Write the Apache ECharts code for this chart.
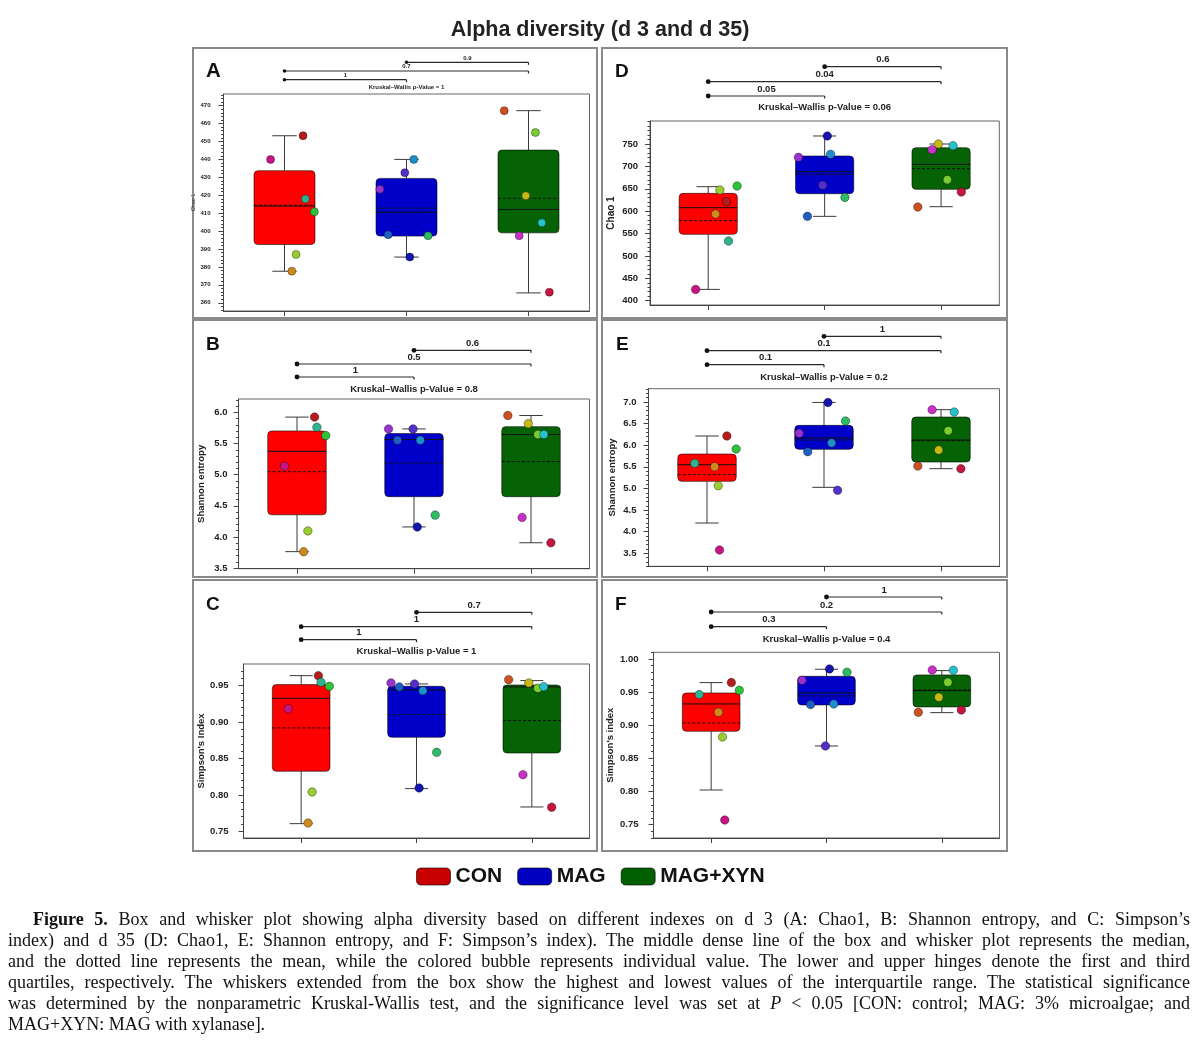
<!DOCTYPE html>
<html>
<head>
<meta charset="utf-8">
<title>Alpha diversity</title>
<script src="https://cdn.jsdelivr.net/npm/echarts@6/dist/echarts.min.js"></script>
<style>
	body { margin: 0; background: #fff; }
	#chart { width: 1200px; height: 1043px; }
	#caption {
		position: absolute; left: 8px; top: 909px; width: 1182px;
		font-family: 'Liberation Serif', 'Times New Roman', serif;
		font-size: 18px; line-height: 21.1px; color: #111;
	}
	#caption .ln { text-align: justify; text-align-last: justify; }
	#caption .first { padding-left: 25px; }
	#caption .last { text-align-last: left; }
</style>
</head>
<body>
<div id="chart"></div>
<div id="caption">
	<div class="ln first"><b>Figure 5.</b> Box and whisker plot showing alpha diversity based on different indexes on d 3 (A: Chao1, B: Shannon entropy, and C: Simpson’s</div>
	<div class="ln">index) and d 35 (D: Chao1, E: Shannon entropy, and F: Simpson’s index). The middle dense line of the box and whisker plot represents the median,</div>
	<div class="ln">and the dotted line represents the mean, while the colored bubble represents individual value. The lower and upper hinges denote the first and third</div>
	<div class="ln">quartiles, respectively. The whiskers extended from the box show the highest and lowest values of the interquartile range. The statistical significance</div>
	<div class="ln">was determined by the nonparametric Kruskal-Wallis test, and the significance level was set at <i>P</i> &lt; 0.05 [CON: control; MAG: 3% microalgae; and</div>
	<div class="ln last">MAG+XYN: MAG with xylanase].</div>
</div>
<script>
const groups = ['CON', 'MAG', 'MAG+XYN'];

// box stats per group: [lower whisker, Q1, median, Q3, upper whisker, mean]
const statsA = [[377.6, 392.5, 414, 433.7, 453.2, 414.4], [385.5, 397.2, 410.5, 429.4, 440, 412.8], [365.5, 399, 412, 445.2, 467.2, 418.3]];
const statsB = [[3.764, 4.356, 5.376, 5.704, 5.926, 5.049], [4.161, 4.647, 5.567, 5.662, 5.736, 5.186], [3.907, 4.647, 5.646, 5.773, 5.952, 5.212]];
const statsC = [[0.7605, 0.8324, 0.9326, 0.9514, 0.9637, 0.8919], [0.8086, 0.8791, 0.944, 0.9491, 0.9523, 0.9102], [0.7834, 0.8575, 0.9482, 0.9509, 0.9569, 0.902]];
const statsD = [[425.3, 548.2, 607.8, 639.8, 654.7, 578.7], [588.4, 639, 688.2, 723.2, 767.9, 682.2], [610, 648.7, 704.6, 741.8, 750, 694.9]];
const statsE = [[4.201, 5.165, 5.55, 5.797, 6.214, 5.319], [5.026, 5.905, 6.167, 6.46, 6.99, 6.121], [5.458, 5.612, 6.121, 6.653, 6.823, 6.106]];
const statsF = [[0.8023, 0.8908, 0.9321, 0.9487, 0.9643, 0.9034], [0.8687, 0.9306, 0.9487, 0.9738, 0.9844, 0.9442], [0.919, 0.9276, 0.9522, 0.9759, 0.9824, 0.9532]];

// individual values, same animal order in every panel
const dotsA = [[440, 453.2, 417.9, 410.8, 387, 377.6], [440, 432.6, 423.3, 398, 397.4, 385.5], [467.2, 455, 419.7, 404.6, 397.4, 365.9]];
const dotsB = [[5.138, 5.926, 5.762, 5.63, 4.097, 3.764], [5.556, 5.736, 5.736, 5.556, 4.351, 4.161], [5.952, 5.646, 5.82, 5.646, 4.314, 3.907]];
const dotsC = [[0.9184, 0.9637, 0.9546, 0.9491, 0.804, 0.7614], [0.9431, 0.9523, 0.9537, 0.9482, 0.8585, 0.8095], [0.9582, 0.9463, 0.9537, 0.9486, 0.8278, 0.783]];
const dotsD = [[425.3, 621.2, 533.3, 656.2, 647.2, 593.6], [726.9, 657.7, 720.2, 588.4, 630.8, 767.9], [609.2, 670.3, 750, 746.3, 737.3, 642.8]];
const dotsE = [[3.577, 6.214, 5.581, 5.913, 5.065, 5.504], [6.052, 4.957, 6.275, 5.851, 6.56, 6.99], [5.52, 6.337, 5.89, 6.769, 6.823, 5.458]];
const dotsF = [[0.757, 0.9643, 0.9462, 0.9527, 0.8823, 0.9195], [0.9321, 0.8687, 0.9678, 0.9311, 0.9799, 0.9849], [0.9195, 0.9648, 0.9422, 0.9829, 0.9834, 0.923]];

// horizontal jitter of each bubble (in category units)
const jitterA = [[-0.114, 0.152, 0.171, 0.245, 0.095, 0.06], [0.06, -0.014, -0.218, -0.15, 0.177, 0.027], [-0.199, 0.057, -0.022, 0.109, -0.076, 0.171]];
const jitterB = [[-0.107, 0.15, 0.17, 0.246, 0.093, 0.057], [0.054, -0.008, -0.218, -0.141, 0.181, 0.028], [-0.198, 0.059, -0.023, 0.11, -0.076, 0.17]];
const jitterC = [[-0.112, 0.149, 0.172, 0.244, 0.095, 0.06], [0.055, -0.017, -0.221, -0.149, 0.175, 0.023], [-0.201, 0.052, -0.026, 0.103, -0.077, 0.172]];
const jitterD = [[-0.108, 0.157, 0.174, 0.248, 0.1, 0.063], [0.051, -0.017, -0.225, -0.148, 0.174, 0.023], [-0.2, 0.054, -0.023, 0.103, -0.077, 0.174]];
const jitterE = [[0.107, 0.17, -0.105, 0.249, 0.096, 0.065], [0.065, 0.116, -0.212, -0.139, 0.184, 0.034], [-0.198, 0.062, -0.02, 0.113, -0.076, 0.17]];
const jitterF = [[0.118, 0.175, -0.103, 0.244, 0.098, 0.063], [0.063, -0.009, -0.212, -0.138, 0.178, 0.026], [-0.204, 0.052, -0.026, 0.1, -0.083, 0.169]];

// p-values: [MAG vs MAG+XYN, CON vs MAG+XYN, CON vs MAG, Kruskal-Wallis]
const pA = ['0.9', '0.7', '1', '1'];
const pB = ['0.6', '0.5', '1', '0.8'];
const pC = ['0.7', '1', '1', '1'];
const pD = ['0.6', '0.04', '0.05', '0.06'];
const pE = ['1', '0.1', '0.1', '0.2'];
const pF = ['1', '0.2', '0.3', '0.4'];

// y tick labels
const ticksA = [360, 370, 380, 390, 400, 410, 420, 430, 440, 450, 460, 470];
const ticksB = [3.5, 4.0, 4.5, 5.0, 5.5, 6.0];
const ticksC = [0.75, 0.80, 0.85, 0.90, 0.95];
const ticksD = [400, 450, 500, 550, 600, 650, 700, 750];
const ticksE = [3.5, 4.0, 4.5, 5.0, 5.5, 6.0, 6.5, 7.0];
const ticksF = [0.75, 0.80, 0.85, 0.90, 0.95, 1.00];

const FONT = 'Liberation Sans, Arial, sans-serif';
const boxColors = ['#ff0000', '#0000c8', '#056305'];
const legendColors = ['#c80000', '#0000c0', '#006000'];
const dotColors = [
	['#c71585', '#b71c1c', '#2fb38e', '#2ec43a', '#9acd32', '#cd8b1f'],
	['#1e8fcc', '#5530c8', '#9932cc', '#1f5fc4', '#2dbb66', '#1515b0'],
	['#cc5020', '#7ccc30', '#c8b818', '#25c2cc', '#c830c8', '#c4163e']
];

const panels = [
	{ letter: 'A', axisName: 'Chao 1', stats: statsA, dots: dotsA, jitter: jitterA, p: pA, ticks: ticksA, minorStep: 2, digits: 0, min: 355.4, max: 476.5,
		frame: [193, 48, 404, 270], grid: [223.5, 94, 366, 217], brk: [31.7, 23, 14.3, 6.7], letterPos: [206, 61], letterSize: 20.5,
		font: 6, nameFont: 5.5, nameWeight: 'normal', nameGap: 22, labelMargin: 13, dotR: 1.8, symbol: 8 },
	{ letter: 'B', axisName: 'Shannon entropy', stats: statsB, dots: dotsB, jitter: jitterB, p: pB, ticks: ticksB, minorStep: 0.1, digits: 1, min: 3.49, max: 6.217,
		frame: [193, 320, 404, 257], grid: [238.5, 399, 351, 169.7], brk: [48.7, 35, 22, 10], letterPos: [206, 335], letterSize: 19,
		font: 9.5, nameFont: 9.5, nameWeight: 'bold', nameGap: 32, labelMargin: 11, dotR: 2.4, symbol: 8.5 },
	{ letter: 'C', axisName: 'Simpson\'s Index', stats: statsC, dots: dotsC, jitter: jitterC, p: pC, ticks: ticksC, minorStep: 0.01, digits: 2, min: 0.7408, max: 0.9797,
		frame: [193, 580, 404, 271], grid: [243.5, 664, 346, 174], brk: [51.7, 37.3, 24.3, 12.7], letterPos: [206, 595], letterSize: 19,
		font: 9.5, nameFont: 9.5, nameWeight: 'bold', nameGap: 36, labelMargin: 15, dotR: 2.4, symbol: 8.5 },
	{ letter: 'D', axisName: 'Chao 1', stats: statsD, dots: dotsD, jitter: jitterD, p: pD, ticks: ticksD, minorStep: 10, digits: 0, min: 390.4, max: 801.4,
		frame: [602, 48, 405, 270], grid: [650, 121, 349.3, 184], brk: [54.3, 39.3, 25, 13.3], letterPos: [615, 62], letterSize: 19,
		font: 9.5, nameFont: 10, nameWeight: 'bold', nameGap: 34, labelMargin: 12, dotR: 2.4, symbol: 8.5 },
	{ letter: 'E', axisName: 'Shannon entropy', stats: statsE, dots: dotsE, jitter: jitterE, p: pE, ticks: ticksE, minorStep: 0.1, digits: 1, min: 3.2, max: 7.308,
		frame: [602, 320, 405, 257], grid: [648.5, 388.7, 351, 177.6], brk: [52.4, 38, 24, 11.7], letterPos: [616, 335], letterSize: 19,
		font: 9.5, nameFont: 9.5, nameWeight: 'bold', nameGap: 31, labelMargin: 12, dotR: 2.4, symbol: 8.5 },
	{ letter: 'F', axisName: 'Simpson\'s index', stats: statsF, dots: dotsF, jitter: jitterF, p: pF, ticks: ticksF, minorStep: 0.01, digits: 2, min: 0.7299, max: 1.01,
		frame: [602, 580, 405, 271], grid: [653.5, 652.3, 346, 185.7], brk: [55.3, 40.3, 25.6, 12.6], letterPos: [615, 595], letterSize: 19,
		font: 9.5, nameFont: 9.5, nameWeight: 'bold', nameGap: 38, labelMargin: 15, dotR: 2.4, symbol: 8.5 }
];

function minorTicks(min, max, step) {
	let out = [];
	for (let k = Math.ceil(min / step - 1e-9); k * step <= max + 1e-9; k++) {
		out.push(+(k * step).toFixed(6));
	}
	return out;
}

function renderBox(params, api) {
	let g = api.value(0);
	let lo = api.value(1), q1 = api.value(2), med = api.value(3), q3 = api.value(4), hi = api.value(5), mean = api.value(6);
	let cx = api.coord([g, med])[0];
	let y = v => api.coord([g, v])[1];
	let half = api.size([0.5, 0])[0] / 2;
	let cap = api.size([0.1, 0])[0];
	let whisker = { stroke: '#3a3a3a', lineWidth: 1 };
	return {
		type: 'group',
		children: [
			{ type: 'line', shape: { x1: cx, y1: y(q3), x2: cx, y2: y(hi) }, style: whisker },
			{ type: 'line', shape: { x1: cx, y1: y(q1), x2: cx, y2: y(lo) }, style: whisker },
			{ type: 'line', shape: { x1: cx - cap, y1: y(hi), x2: cx + cap, y2: y(hi) }, style: whisker },
			{ type: 'line', shape: { x1: cx - cap, y1: y(lo), x2: cx + cap, y2: y(lo) }, style: whisker },
			{
				type: 'rect',
				shape: { x: cx - half, y: y(q3), width: half * 2, height: y(q1) - y(q3), r: 4 },
				style: { fill: api.visual('color'), stroke: 'rgba(0,0,0,0.55)', lineWidth: 1 }
			},
			{ type: 'line', shape: { x1: cx - half, y1: y(med), x2: cx + half, y2: y(med) }, style: { stroke: '#111', lineWidth: 1 } },
			{ type: 'line', shape: { x1: cx - half, y1: y(mean), x2: cx + half, y2: y(mean) }, style: { stroke: '#111', lineWidth: 1, lineDash: [3, 2] } }
		]
	};
}

// significance brackets and Kruskal-Wallis label above each plot
function bracketRenderer(panel) {
	return (params, api) => {
		let top = params.coordSys.y;
		let xAt = v => api.coord([v, panel.min])[0];
		let rows = [[1, 2, panel.p[0], 1.5], [0, 2, panel.p[1], 1], [0, 1, panel.p[2], 0.5]];
		let children = [];
		let ink = '#2a2a2a';
		rows.forEach((row, k) => {
			let ly = top - panel.brk[k];
			let x1 = xAt(row[0]), x2 = xAt(row[1]);
			children.push({ type: 'line', shape: { x1: x1, y1: ly, x2: x2, y2: ly }, style: { stroke: ink, lineWidth: 1.2 } });
			children.push({ type: 'line', shape: { x1: x2, y1: ly, x2: x2, y2: ly + 2.5 }, style: { stroke: ink, lineWidth: 1.2 } });
			children.push({ type: 'circle', shape: { cx: x1, cy: ly, r: panel.dotR }, style: { fill: '#111' } });
			children.push({
				type: 'text',
				style: {
					x: xAt(row[3]), y: ly - (panel.font > 7 ? 2 : 1.2), text: row[2],
					fontSize: panel.font, fontWeight: 'bold', fontFamily: FONT, fill: '#222',
					align: 'center', verticalAlign: 'bottom'
				}
			});
		});
		children.push({
			type: 'text',
			style: {
				x: xAt(1), y: top - panel.brk[3], text: 'Kruskal–Wallis p-Value = ' + panel.p[3],
				fontSize: panel.font, fontWeight: 'bold', fontFamily: FONT, fill: '#222',
				align: 'center', verticalAlign: 'middle'
			}
		});
		return { type: 'group', children: children };
	};
}

let grids = [], xAxes = [], yAxes = [], series = [], graphics = [];
let titles = [{
	text: 'Alpha diversity (d 3 and d 35)',
	left: 'center', top: 14,
	textStyle: { fontSize: 21.5, fontWeight: 'bold', color: '#222', fontFamily: FONT }
}];

panels.forEach((panel, i) => {
	graphics.push({
		type: 'rect',
		shape: { x: panel.frame[0], y: panel.frame[1], width: panel.frame[2], height: panel.frame[3] },
		style: { fill: 'none', stroke: '#8a8a8a', lineWidth: 2 },
		z: 0
	});

	titles.push({
		text: panel.letter, left: panel.letterPos[0], top: panel.letterPos[1], padding: 0,
		textStyle: { fontSize: panel.letterSize, fontWeight: 'bold', color: '#111', fontFamily: FONT }
	});

	grids.push({
		left: panel.grid[0], top: panel.grid[1], width: panel.grid[2], height: panel.grid[3],
		show: true, borderColor: '#666', borderWidth: 1, backgroundColor: 'transparent'
	});

	xAxes.push({
		gridIndex: i, type: 'value', min: -0.5, max: 2.5,
		axisLine: { show: true, onZero: false, lineStyle: { color: '#444' } },
		axisTick: { show: true, length: 5, customValues: [0, 1, 2], lineStyle: { color: '#444' } },
		axisLabel: { show: false },
		splitLine: { show: false }
	});

	yAxes.push({
		gridIndex: i, type: 'value', min: panel.min, max: panel.max, position: 'left',
		axisLine: { show: true, onZero: false, lineStyle: { color: '#444' } },
		axisTick: { show: true, length: 5, customValues: panel.ticks, lineStyle: { color: '#444' } },
		axisLabel: {
			customValues: panel.ticks, margin: panel.labelMargin,
			fontSize: panel.font, fontWeight: 'bold', color: '#222', fontFamily: FONT,
			formatter: v => Number(v).toFixed(panel.digits)
		},
		splitLine: { show: false },
		name: panel.axisName, nameLocation: 'middle', nameGap: panel.nameGap,
		nameTextStyle: { fontSize: panel.nameFont, fontWeight: panel.nameWeight, color: '#222', fontFamily: FONT }
	});
	// minor ticks on the same left edge
	yAxes.push({
		gridIndex: i, type: 'value', min: panel.min, max: panel.max, position: 'left', offset: 0,
		axisLine: { show: false, onZero: false },
		axisTick: { show: true, length: 2.5, customValues: minorTicks(panel.min, panel.max, panel.minorStep), lineStyle: { color: '#444' } },
		axisLabel: { show: false },
		splitLine: { show: false }
	});

	groups.forEach((name, g) => {
		series.push({
			name: name,
			type: 'custom',
			xAxisIndex: i,
			yAxisIndex: i * 2,
			itemStyle: { color: boxColors[g] },
			renderItem: renderBox,
			data: [[g].concat(panel.stats[g])],
			z: 2,
			silent: true
		});
	});

	let points = [];
	groups.forEach((name, g) => {
		panel.dots[g].forEach((v, k) => {
			points.push({ value: [g + panel.jitter[g][k], v], itemStyle: { color: dotColors[g][k] } });
		});
	});
	series.push({
		type: 'scatter',
		xAxisIndex: i,
		yAxisIndex: i * 2,
		symbolSize: panel.symbol,
		itemStyle: { borderColor: 'rgba(0,0,0,0.45)', borderWidth: 0.8, opacity: 1 },
		data: points,
		z: 3
	});

	series.push({
		type: 'custom',
		xAxisIndex: i,
		yAxisIndex: i * 2,
		renderItem: bracketRenderer(panel),
		data: [[1, panel.min]],
		clip: false,
		silent: true,
		z: 4
	});
});

let chart = echarts.init(document.getElementById('chart'), null, { renderer: 'canvas' });

chart.setOption({
	backgroundColor: '#fff',
	animation: false,
	title: titles,
	legend: {
		left: 416, top: 866, padding: 0,
		icon: 'roundRect',
		itemWidth: 34, itemHeight: 17, itemGap: 15,
		selectedMode: false,
		textStyle: { fontSize: 21, fontWeight: 'bold', color: '#111', fontFamily: FONT },
		data: groups.map((name, g) => ({
			name: name,
			itemStyle: { color: legendColors[g], borderColor: 'rgba(0,0,0,0.6)', borderWidth: 1 }
		}))
	},
	grid: grids,
	xAxis: xAxes,
	yAxis: yAxes,
	graphic: graphics,
	series: series
});
</script>
</body>
</html>
